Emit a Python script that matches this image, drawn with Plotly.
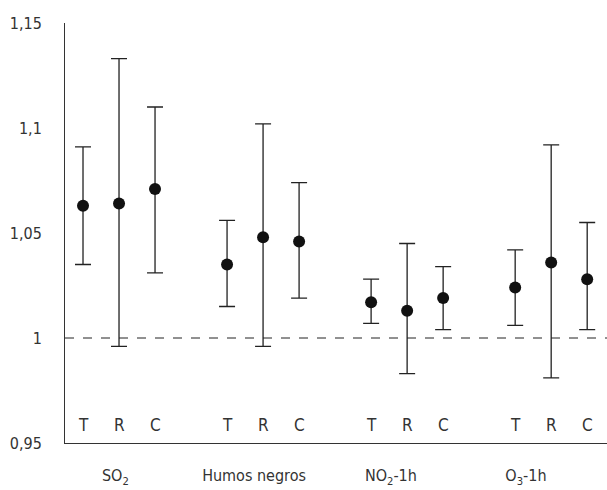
import plotly.graph_objects as go

groups = ["SO<sub>2</sub>", "Humos negros", "NO<sub>2</sub>-1h", "O<sub>3</sub>-1h"]
letters = ["T", "R", "C"]

means = [1.063, 1.064, 1.071,
         1.035, 1.048, 1.046,
         1.017, 1.013, 1.019,
         1.024, 1.036, 1.028]
lower = [1.035, 0.996, 1.031,
         1.015, 0.996, 1.019,
         1.007, 0.983, 1.004,
         1.006, 0.981, 1.004]
upper = [1.091, 1.133, 1.110,
         1.056, 1.102, 1.074,
         1.028, 1.045, 1.034,
         1.042, 1.092, 1.055]

y_ticks = [0.95, 1.0, 1.05, 1.1, 1.15]
y_ticktext = ["0,95", "1", "1,05", "1,1", "1,15"]

FONT = "DejaVu Sans Condensed, Liberation Sans Narrow, sans-serif"

xs = []
labs = []
for gi in range(len(groups)):
    for li, l in enumerate(letters):
        xs.append(gi * 4 + li)
        labs.append(l)

fig = go.Figure()
fig.add_trace(go.Scatter(
    x=xs, y=means, mode="markers",
    marker=dict(color="#111111", size=12),
    error_y=dict(type="data", symmetric=False,
                 array=[u - m for u, m in zip(upper, means)],
                 arrayminus=[m - lo for m, lo in zip(means, lower)],
                 color="#222222", thickness=1.3, width=8),
    showlegend=False,
))

fig.add_shape(type="line", xref="paper", yref="y", x0=0, x1=1, y0=1, y1=1,
              line=dict(color="#222222", width=1, dash="dash"))

for x, l in zip(xs, labs):
    fig.add_annotation(x=x, y=0.9585, text=l, showarrow=False,
                       font=dict(family=FONT, size=17, color="#333333"))

fig.update_layout(
    width=607, height=490,
    margin=dict(l=65, r=0, t=23, b=47),
    paper_bgcolor="white", plot_bgcolor="white",
    font=dict(family=FONT, size=16, color="#333333"),
    xaxis=dict(range=[-0.5, 14.55], showgrid=False, zeroline=False,
               showline=True, linecolor="#333333", linewidth=1,
               tickmode="array", tickvals=[0.9, 4.75, 8.55, 12.3],
               ticktext=groups, ticks="", ticklabelstandoff=18),
    yaxis=dict(range=[0.95, 1.15], showgrid=False, zeroline=False,
               showline=True, linecolor="#333333", linewidth=1,
               tickmode="array", tickvals=y_ticks, ticktext=y_ticktext,
               ticks="", ticklabelstandoff=19),
)

fig.write_html("out.html", config={"displayModeBar": False},
               post_script="document.body.style.margin='0';document.body.style.overflow='hidden';")
